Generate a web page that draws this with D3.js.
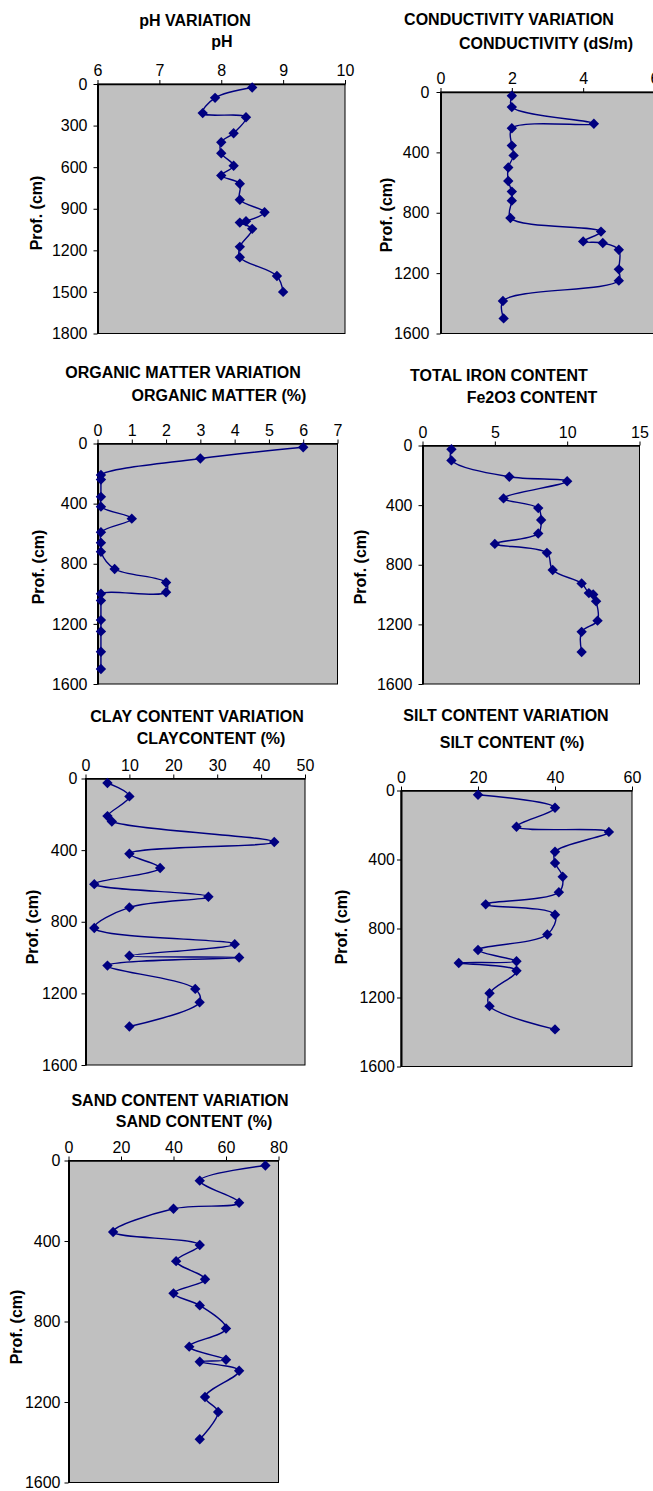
<!DOCTYPE html>
<html>
<head>
<meta charset="utf-8">
<script src="https://cdn.jsdelivr.net/npm/d3@7"></script>
<style>
  body { margin: 0; background: #fff; }
  svg text { font-family: "Liberation Sans", Arial, sans-serif; fill: #000; }
  .title { font-weight: bold; font-size: 16px; }
  .tick text { font-size: 16px; }
</style>
</head>
<body>
<div class="Chart"></div>
<script>
// depth of each sample (cm), shared by every panel
let depth = [25, 100, 210, 240, 355, 420, 500, 590, 660, 720, 835, 925, 990, 1000, 1045, 1175, 1250, 1385, 1500];

let phValues = [8.5, 7.9, 7.7, 8.4, 8.2, 8.0, 8.0, 8.2, 8.0, 8.3, 8.3, 8.7, 8.4, 8.3, 8.5, 8.3, 8.3, 8.9, 9.0];
let condValues = [2.0, 2.0, 4.3, 2.0, 2.0, 2.05, 1.9, 1.9, 2.0, 2.0, 1.96, 4.5, 4.0, 4.55, 5.0, 5.0, 5.0, 1.75, 1.77];
let omValues = [6.0, 3.0, 0.1, 0.1, 0.1, 0.1, 1.0, 0.1, 0.1, 0.1, 0.5, 2.0, 2.0, 0.1, 0.1, 0.1, 0.1, 0.1, 0.1];
let ironValues = [2.0, 2.0, 6.0, 10.0, 5.6, 8.0, 8.2, 8.0, 5.0, 8.6, 9.0, 11.0, 11.5, 11.8, 12.0, 12.1, 11.0, 11.0];
let clayValues = [5, 10, 5, 6, 43, 10, 17, 2, 28, 10, 2, 34, 10, 35, 5, 25, 26, 10];
let siltValues = [20, 40, 30, 54, 40, 40, 42, 41, 22, 40, 38, 20, 30, 15, 30, 23, 23, 40];
let sandValues = [75, 50, 65, 40, 17, 50, 41, 52, 40, 50, 60, 46, 60, 50, 65, 52, 57, 50];

// axis ticks
let phTicks = [6, 7, 8, 9, 10];
let condTicks = [0, 2, 4, 6];
let omTicks = [0, 1, 2, 3, 4, 5, 6, 7];
let ironTicks = [0, 5, 10, 15];
let clayTicks = [0, 10, 20, 30, 40, 50];
let siltTicks = [0, 20, 40, 60];
let sandTicks = [0, 20, 40, 60, 80];
let depth1800Ticks = [0, 300, 600, 900, 1200, 1500, 1800];
let depth1600Ticks = [0, 400, 800, 1200, 1600];

let svg = d3.select(".Chart")
  .append("svg")
  .attr("width", 653)
  .attr("height", 1491);

function drawPanel(p) {
  let x = d3.scaleLinear().domain(p.xDomain).range([p.left, p.right]);
  let y = d3.scaleLinear().domain(p.yDomain).range([p.top, p.bottom]);
  let g = svg.append("g");

  g.append("rect")
    .attr("x", p.left).attr("y", p.top)
    .attr("width", p.right - p.left).attr("height", p.bottom - p.top)
    .attr("fill", "#c0c0c0")
    .attr("stroke", "#000")
    .attr("stroke-width", 1);

  let xAxis = g.append("g")
    .attr("transform", `translate(0,${p.top})`)
    .call(d3.axisTop(x).tickValues(p.xTicks).tickFormat(d => d)
      .tickSize(4).tickSizeOuter(0).tickPadding(4));
  let yAxis = g.append("g")
    .attr("transform", `translate(${p.left},0)`)
    .call(d3.axisLeft(y).tickValues(p.yTicks).tickFormat(d => d)
      .tickSize(4).tickSizeOuter(0).tickPadding(p.yPad));
  [xAxis, yAxis].forEach(a => {
    a.attr("font-size", null).attr("font-family", null);
    a.select(".domain").attr("stroke-width", 1.5);
  });
  yAxis.select(".domain").attr("stroke-width", 2);

  g.append("text").attr("class", "title")
    .attr("x", p.titleX).attr("y", p.titleY)
    .attr("text-anchor", "middle")
    .text(p.title);
  g.append("text").attr("class", "title")
    .attr("x", p.subX).attr("y", p.subY)
    .attr("text-anchor", "middle")
    .text(p.sub);
  g.append("text").attr("class", "title")
    .attr("transform", `translate(${p.profX},${p.profY}) rotate(-90)`)
    .attr("text-anchor", "middle")
    .text("Prof. (cm)");

  let pts = p.values.map((v, i) => [v, depth[i]]);
  let line = d3.line()
    .x(d => x(d[0]))
    .y(d => y(d[1]))
    .curve(d3.curveCatmullRom.alpha(0.5));
  g.append("path")
    .datum(pts)
    .attr("d", line)
    .attr("fill", "none")
    .attr("stroke", "#000080")
    .attr("stroke-width", 1.4);

  g.selectAll(".marker")
    .data(pts)
    .enter()
    .append("path")
    .attr("class", "marker")
    .attr("d", d3.symbol(d3.symbolSquare, 54))
    .attr("transform", d => `translate(${x(d[0])},${y(d[1])}) rotate(45)`)
    .attr("fill", "#000080");
}

drawPanel({ title: "pH VARIATION", sub: "pH", values: phValues,
  xDomain: [6, 10], xTicks: phTicks, yDomain: [0, 1800], yTicks: depth1800Ticks,
  left: 97.5, right: 345, top: 84, bottom: 333.5, yPad: 6,
  titleX: 195, titleY: 26, subX: 222, subY: 47, profX: 42, profY: 213 });

drawPanel({ title: "CONDUCTIVITY VARIATION", sub: "CONDUCTIVITY (dS/m)", values: condValues,
  xDomain: [0, 6], xTicks: condTicks, yDomain: [0, 1600], yTicks: depth1600Ticks,
  left: 440.5, right: 654.5, top: 92, bottom: 333.5, yPad: 7,
  titleX: 509, titleY: 25, subX: 546, subY: 49, profX: 392, profY: 215 });

drawPanel({ title: "ORGANIC MATTER VARIATION", sub: "ORGANIC MATTER (%)", values: omValues,
  xDomain: [0, 7], xTicks: omTicks, yDomain: [0, 1600], yTicks: depth1600Ticks,
  left: 97.5, right: 337.5, top: 443.5, bottom: 684, yPad: 6,
  titleX: 183, titleY: 378, subX: 219, subY: 401, profX: 44, profY: 567 });

drawPanel({ title: "TOTAL IRON CONTENT", sub: "Fe2O3 CONTENT", values: ironValues,
  xDomain: [0, 15], xTicks: ironTicks, yDomain: [0, 1600], yTicks: depth1600Ticks,
  left: 422.5, right: 639.5, top: 445.5, bottom: 684, yPad: 6,
  titleX: 499, titleY: 381, subX: 532, subY: 403, profX: 366, profY: 567 });

drawPanel({ title: "CLAY CONTENT VARIATION", sub: "CLAYCONTENT (%)", values: clayValues,
  xDomain: [0, 50], xTicks: clayTicks, yDomain: [0, 1600], yTicks: depth1600Ticks,
  left: 85.5, right: 305, top: 778.5, bottom: 1065, yPad: 4,
  titleX: 197, titleY: 722, subX: 211, subY: 744, profX: 38, profY: 927 });

drawPanel({ title: "SILT CONTENT VARIATION", sub: "SILT CONTENT (%)", values: siltValues,
  xDomain: [0, 60], xTicks: siltTicks, yDomain: [0, 1600], yTicks: depth1600Ticks,
  left: 401, right: 632, top: 790.5, bottom: 1066.5, yPad: 2,
  titleX: 506, titleY: 721, subX: 512, subY: 748, profX: 347, profY: 927 });

drawPanel({ title: "SAND CONTENT VARIATION", sub: "SAND CONTENT (%)", values: sandValues,
  xDomain: [0, 80], xTicks: sandTicks, yDomain: [0, 1600], yTicks: depth1600Ticks,
  left: 68.5, right: 278.5, top: 1160.5, bottom: 1482.5, yPad: 4,
  titleX: 180, titleY: 1106, subX: 194, subY: 1127, profX: 22, profY: 1327 });
</script>
</body>
</html>
